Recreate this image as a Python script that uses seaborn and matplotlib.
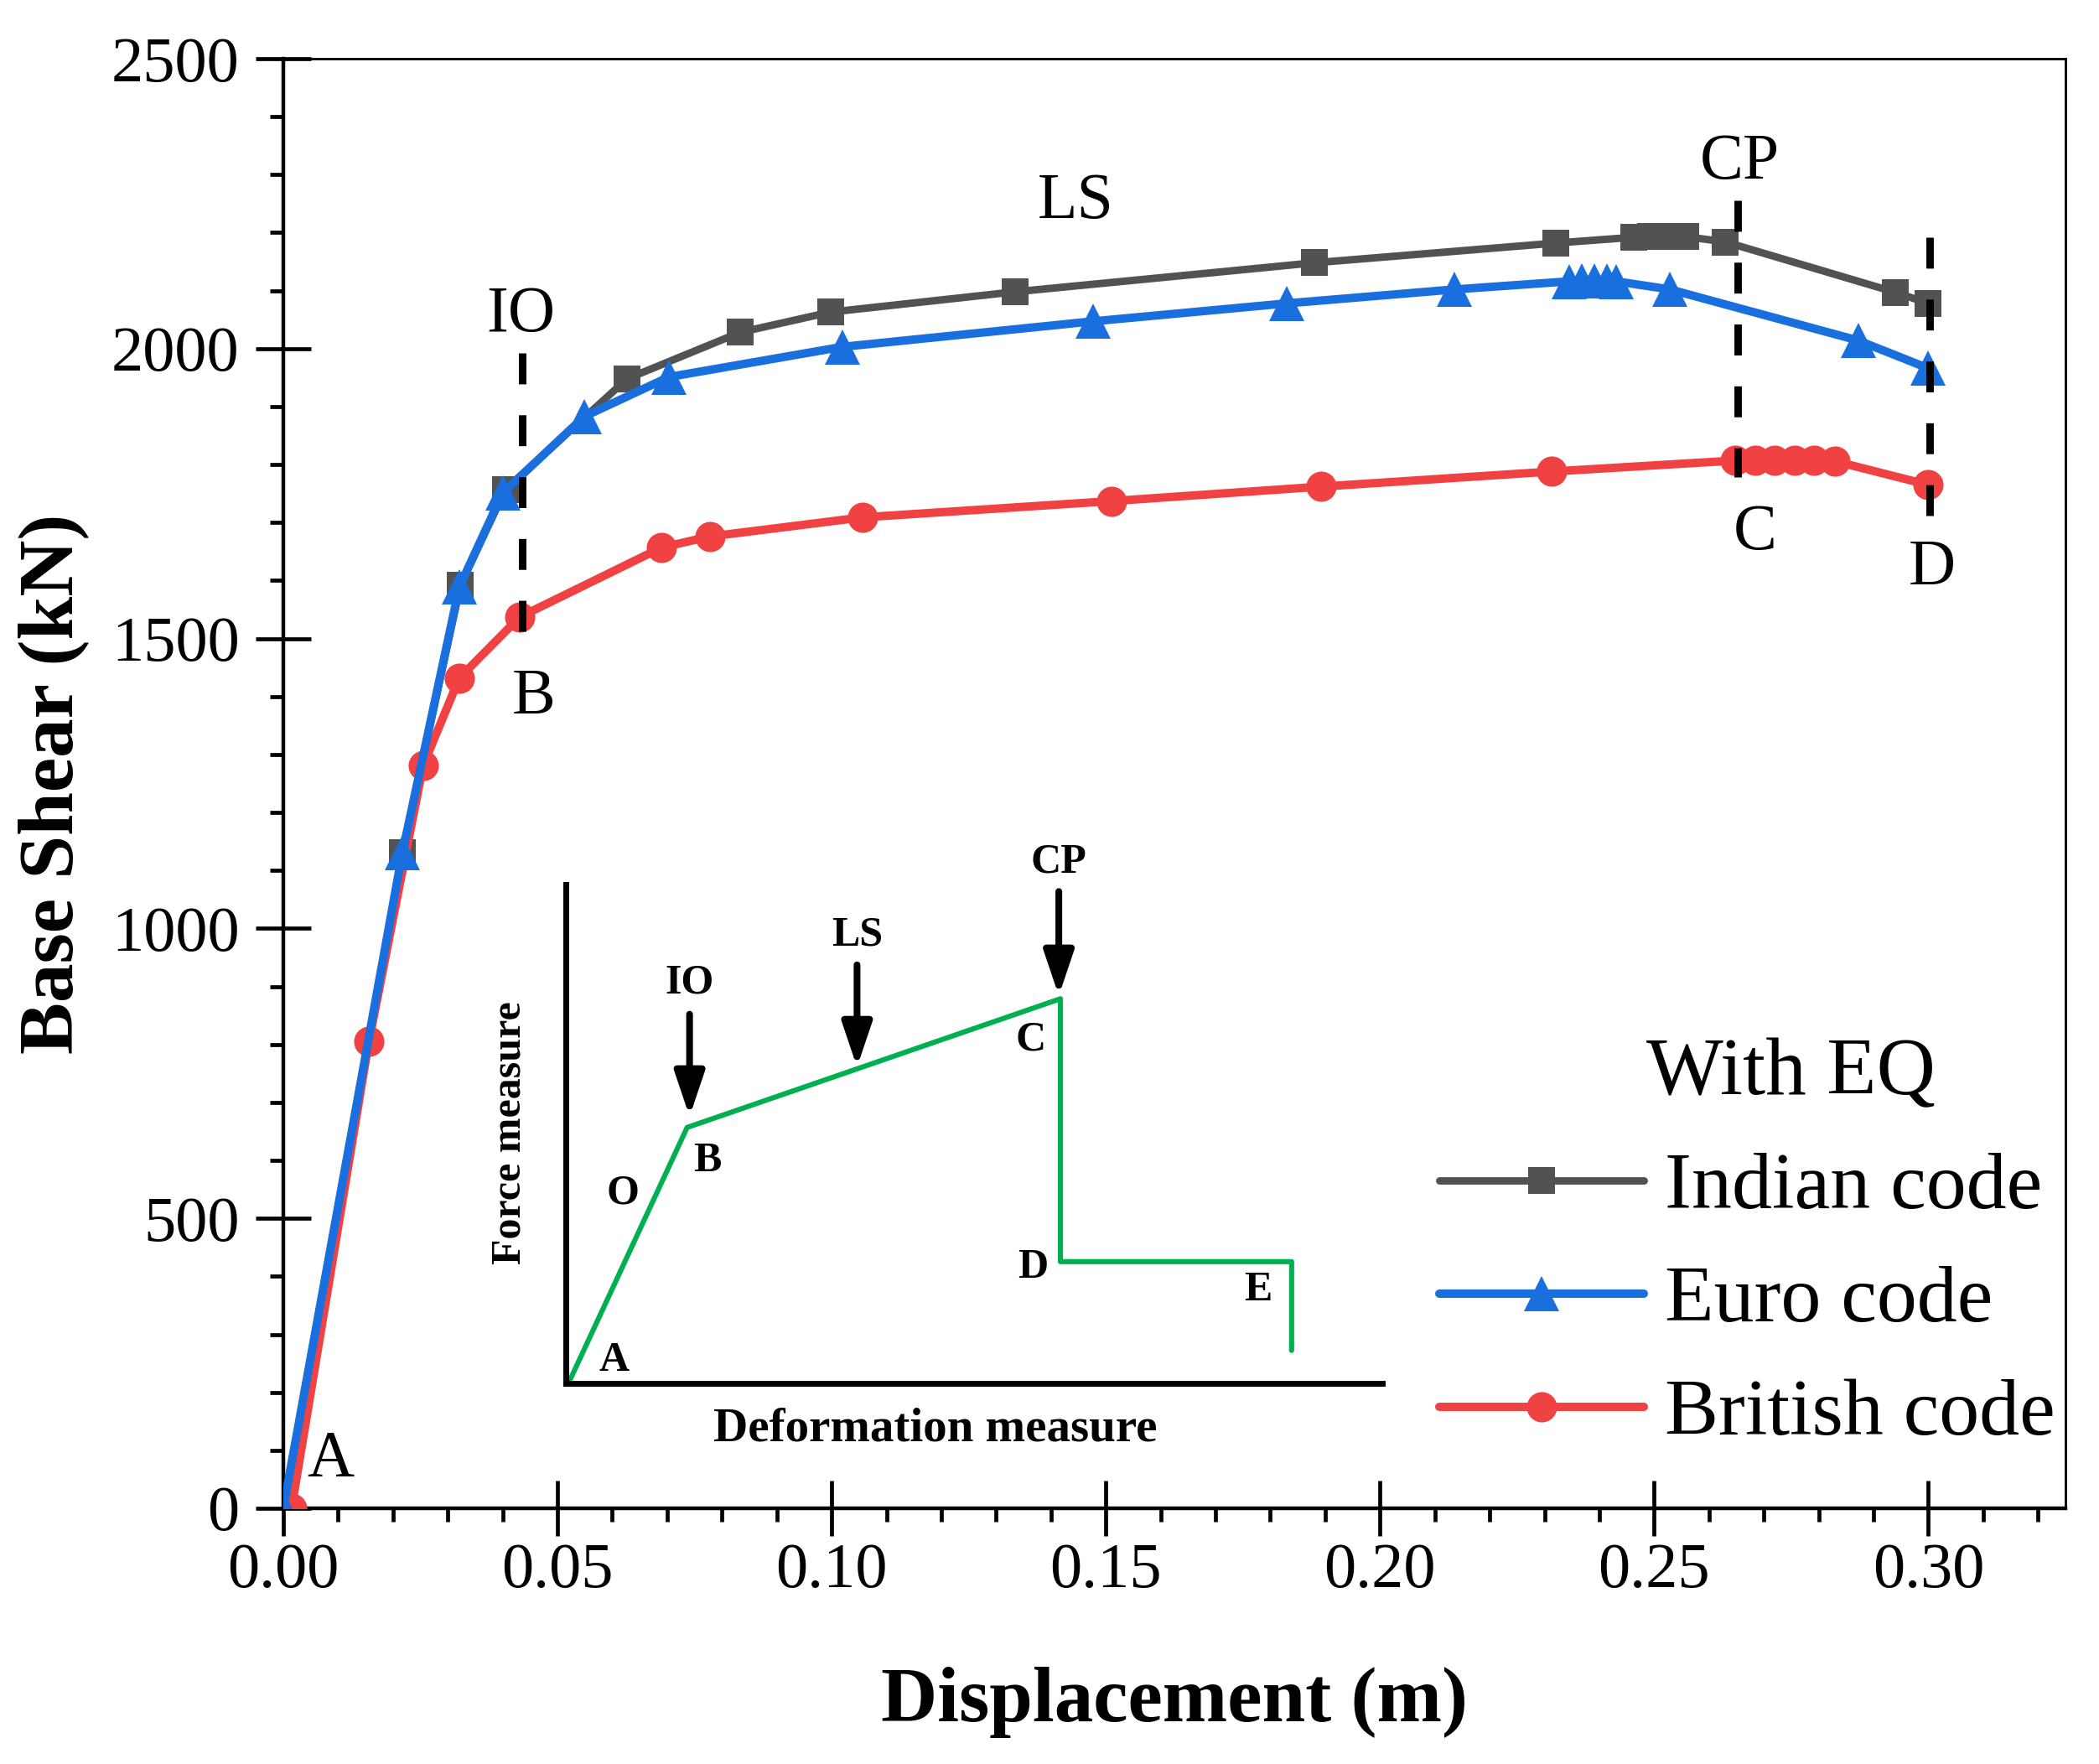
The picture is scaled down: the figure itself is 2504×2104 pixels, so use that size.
import matplotlib.pyplot as plt
import matplotlib.ticker as mticker
import numpy as np
import pandas as pd
import seaborn as sns

# pushover curves: displacement (m) vs base shear (kN)
indian_x = [0.0, 0.0217, 0.0323, 0.0405, 0.0627, 0.0833, 0.0998, 0.1335, 0.188,
            0.232, 0.2462, 0.2494, 0.2526, 0.2558, 0.263, 0.294, 0.300]
indian_y = [0, 1130, 1592, 1757, 1948, 2028, 2063, 2098, 2148,
            2182, 2192, 2193, 2193, 2193, 2184, 2097, 2078]

euro_x = [0.0, 0.0217, 0.0321, 0.0400, 0.0549, 0.0703, 0.1019, 0.1476, 0.183,
          0.2135, 0.2345, 0.2368, 0.2391, 0.2414, 0.2431, 0.2529, 0.2872, 0.300]
euro_y = [0, 1130, 1589, 1751, 1883, 1951, 2003, 2047, 2078,
          2102, 2116, 2117, 2117, 2117, 2116, 2102, 2014, 1966]

british_x = [0.0015, 0.0156, 0.0255, 0.0321, 0.0431, 0.069, 0.0778, 0.1057, 0.151,
             0.1893, 0.2313, 0.2648, 0.2685, 0.2720, 0.2756, 0.2792, 0.2829, 0.300]
british_y = [0, 805, 1281, 1432, 1537, 1657, 1676, 1709, 1737,
             1762, 1788, 1807, 1808, 1808, 1808, 1807, 1806, 1765]

# performance level markers (dashed lines) and their letters
limit_x = [0.0436, 0.2653, 0.3003]
limit_top = [1992, 2256, 2192]
limit_bottom = [1512, 1778, 1712]
label_text = ["IO", "B", "LS", "CP", "C", "D", "A"]
label_x = [0.0433, 0.0457, 0.1445, 0.2656, 0.2684, 0.3006, 0.0086]
label_y = [2057, 1398, 2253, 2321, 1682, 1621, 83]

# inset: generic force-deformation backbone (arbitrary 0-100 units)
backbone_x = [0.56, 14.9, 60.6, 60.6, 88.9, 88.9]
backbone_y = [0.67, 51.3, 77.1, 24.4, 24.4, 6.6]
inset_text = ["A", "O", "B", "C", "D", "E"]
inset_text_x = [6.0, 7.0, 17.4, 57.0, 57.2, 84.8]
inset_text_y = [4.5, 38.0, 44.5, 68.8, 23.2, 18.7]
arrow_label = ["IO", "LS", "CP"]
arrow_x = [15.2, 35.7, 60.4]
arrow_top = [74.0, 83.9, 98.6]
arrow_tip = [53.5, 63.4, 77.7]
arrow_label_y = [80.3, 89.8, 104.4]

sns.set_theme(style="ticks")
plt.rcParams["font.family"] = ["Liberation Serif", "DejaVu Serif"]
plt.rcParams["text.color"] = "black"
plt.rcParams["axes.labelcolor"] = "black"
plt.rcParams["xtick.color"] = "black"
plt.rcParams["ytick.color"] = "black"

fig = plt.figure(figsize=(12.52, 10.52), dpi=200)
ax = fig.add_axes([338 / 2504, 1 - 1799 / 2104, 2126 / 2504, 1729 / 2104])

sns.lineplot(x=indian_x, y=indian_y, ax=ax, color="#525252", marker="s",
             markersize=11.5, markeredgewidth=0, linewidth=3.2,
             estimator=None, sort=False, label="Indian code", zorder=3)
sns.lineplot(x=british_x, y=british_y, ax=ax, color="#f04242", marker="o",
             markersize=13, markeredgewidth=0, linewidth=3.6,
             estimator=None, sort=False, label="British code", zorder=3)
sns.lineplot(x=euro_x, y=euro_y, ax=ax, color="#1a6fdf", marker="^",
             markersize=14.8, markeredgewidth=0, linewidth=3.6,
             estimator=None, sort=False, label="Euro code", zorder=4)

for xv, yt, yb in zip(limit_x, limit_top, limit_bottom):
    ax.plot([xv, xv], [yt, yb], color="black", linewidth=3.2,
            dashes=(4.15, 4.15), zorder=5)

for t, xv, yv in zip(label_text, label_x, label_y):
    ax.text(xv, yv, t, ha="center", va="center", fontsize=28, zorder=6)

ax.set_xlim(0, 0.325)
ax.set_ylim(0, 2500)
ax.xaxis.set_major_locator(mticker.MultipleLocator(0.05))
ax.xaxis.set_minor_locator(mticker.MultipleLocator(0.01))
ax.yaxis.set_major_locator(mticker.MultipleLocator(500))
ax.yaxis.set_minor_locator(mticker.MultipleLocator(100))
ax.xaxis.set_major_formatter(mticker.FormatStrFormatter("%.2f"))
ax.tick_params(which="major", direction="inout", length=23.8, width=1.7,
               labelsize=27.5, color="black", labelcolor="black")
ax.tick_params(which="minor", direction="out", length=5.8, width=1.7,
               color="black")
ax.tick_params(axis="x", which="major", pad=3)
ax.tick_params(axis="y", which="major", pad=7)
ax.tick_params(bottom=True, left=True, top=False, right=False, which="both")

for side in ["left", "bottom"]:
    ax.spines[side].set_linewidth(1.6)
    ax.spines[side].set_color("black")
for side in ["top", "right"]:
    ax.spines[side].set_linewidth(1.0)
    ax.spines[side].set_color("black")

ax.set_xlabel("Displacement (m)", fontsize=33.5, fontweight="bold")
ax.set_ylabel("Base Shear (kN)", fontsize=33.5, fontweight="bold")
ax.xaxis.label.set_va("center")
ax.yaxis.label.set_va("center")
ax.xaxis.set_label_coords(0.5, -0.134)
ax.yaxis.set_label_coords(-0.129, 0.5)

handles, labels = ax.get_legend_handles_labels()
order = [labels.index(n) for n in ["Indian code", "Euro code", "British code"]]
ax.legend([handles[i] for i in order], [labels[i] for i in order],
          loc="upper left", bbox_to_anchor=(1717 / 2504, 1 - 1374 / 2104),
          bbox_transform=fig.transFigure, frameon=False, fontsize=34.5,
          handlelength=2.55, handletextpad=0.26, labelspacing=0.5,
          borderpad=0, borderaxespad=0, numpoints=1)
fig.text(2136 / 2504, 1 - 1282 / 2104, "With EQ", ha="center", va="center",
         fontsize=35)

# inset schematic
ins = fig.add_axes([674.5 / 2504, 1 - 1650 / 2104, 974.5 / 2504, 595 / 2104])
ins.set_facecolor("none")
sns.lineplot(x=backbone_x, y=backbone_y, ax=ins, color="#00b050",
             linewidth=2.2, estimator=None, sort=False)
ins.set_xlim(0, 100)
ins.set_ylim(0, 100)
ins.set_xticks([])
ins.set_yticks([])
ins.spines["top"].set_visible(False)
ins.spines["right"].set_visible(False)
for side in ["left", "bottom"]:
    ins.spines[side].set_linewidth(2.5)
    ins.spines[side].set_color("black")

for t, xv, yv in zip(inset_text, inset_text_x, inset_text_y):
    ins.text(xv, yv, t, ha="center", va="center", fontsize=18,
             fontweight="bold")
for t, xv, yt, yp, yl in zip(arrow_label, arrow_x, arrow_top, arrow_tip,
                             arrow_label_y):
    ins.annotate("", xy=(xv, yp), xytext=(xv, yt),
                 arrowprops=dict(arrowstyle="-|>,head_length=0.8,head_width=0.27",
                                 color="black", lw=2.9, mutation_scale=20,
                                 shrinkA=0, shrinkB=0))
    ins.text(xv, yl, t, ha="center", va="center", fontsize=18,
             fontweight="bold", clip_on=False)

ins.text(45.3, -9.2, "Deformation measure", ha="center", va="center",
         fontsize=20.5, fontweight="bold", clip_on=False)
ins.text(-6.8, 50.3, "Force measure", ha="center", va="center",
         fontsize=18, fontweight="bold", rotation=90, clip_on=False)
ins.set_xlabel("")
ins.set_ylabel("")

fig.savefig("out.png", dpi=200)
